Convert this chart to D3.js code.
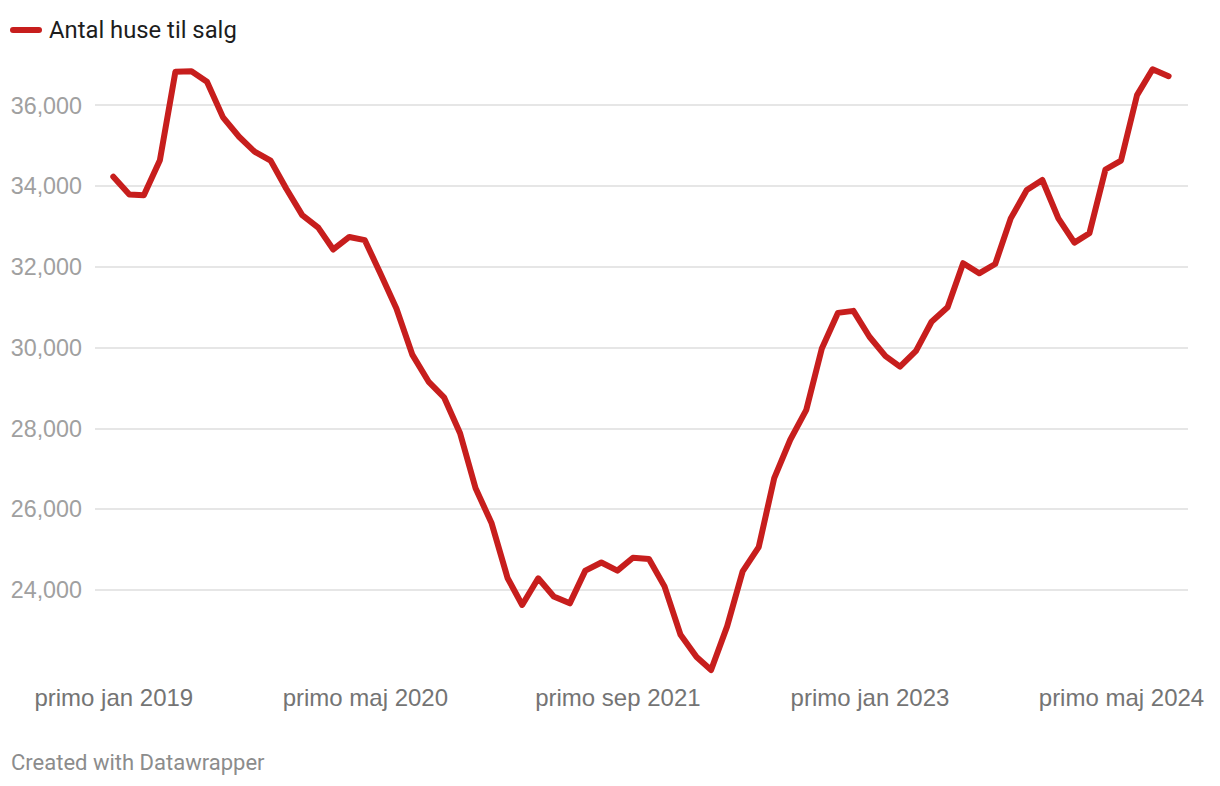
<!DOCTYPE html>
<html lang="da">
<head>
    <meta charset="UTF-8">
    <title>Antal huse til salg</title>
    <script src="https://d3js.org/d3.v7.min.js"></script>
    <style>
        body {
            background-color: #ffffff;
            font-family: Roboto, Arial, sans-serif;
            margin: 0;
            padding: 0;
        }

        .grid line {
            stroke: #e6e6e6;
            stroke-width: 2px;
            shape-rendering: crispEdges;
        }

        .y-axis text {
            fill: #a0a0a0;
            font-size: 23.3px;
        }

        .x-axis text {
            fill: #747474;
            font-size: 24px;
        }

        .domain {
            display: none;
        }
    </style>
</head>
<body>
    <svg id="chart"></svg>

    <script>
        // one value per month, jan 2019 .. aug 2024
        const months = [
            "2019-01", "2019-02", "2019-03", "2019-04", "2019-05", "2019-06", "2019-07", "2019-08", "2019-09", "2019-10", "2019-11", "2019-12",
            "2020-01", "2020-02", "2020-03", "2020-04", "2020-05", "2020-06", "2020-07", "2020-08", "2020-09", "2020-10", "2020-11", "2020-12",
            "2021-01", "2021-02", "2021-03", "2021-04", "2021-05", "2021-06", "2021-07", "2021-08", "2021-09", "2021-10", "2021-11", "2021-12",
            "2022-01", "2022-02", "2022-03", "2022-04", "2022-05", "2022-06", "2022-07", "2022-08", "2022-09", "2022-10", "2022-11", "2022-12",
            "2023-01", "2023-02", "2023-03", "2023-04", "2023-05", "2023-06", "2023-07", "2023-08", "2023-09", "2023-10", "2023-11", "2023-12",
            "2024-01", "2024-02", "2024-03", "2024-04", "2024-05", "2024-06", "2024-07", "2024-08"
        ];

        const housesForSale = [
            34220, 33780, 33760, 34630, 36820, 36830, 36570, 35690, 35210, 34840, 34620, 33930,
            33270, 32960, 32420, 32730, 32650, 31800, 30960, 29810, 29150, 28760, 27870, 26510,
            25640, 24280, 23620, 24280, 23830, 23660, 24470, 24670, 24470, 24790, 24760, 24080,
            22880, 22330, 22010, 23090, 24450, 25050, 26760, 27710, 28450, 29970, 30850, 30900,
            30260, 29780, 29520, 29910, 30630, 30990, 32080, 31830, 32060, 33190, 33890, 34140,
            33190, 32590, 32820, 34400, 34620, 36240, 36880, 36710
        ];

        const seriesName = "Antal huse til salg";

        const yTicks = [24000, 26000, 28000, 30000, 32000, 34000, 36000];
        const xTickMonths = ["2019-01", "2020-05", "2021-09", "2023-01", "2024-05"];
        const xTickLabels = ["primo jan 2019", "primo maj 2020", "primo sep 2021", "primo jan 2023", "primo maj 2024"];

        const width = 1220;
        const height = 786;
        const lineColor = "#c71e1d";

        const parseMonth = d3.timeParse("%Y-%m");
        const data = months.map((m, i) => ({ date: parseMonth(m), value: housesForSale[i] }));

        const svg = d3.select("#chart")
            .attr("width", width)
            .attr("height", height);

        const xScale = d3.scaleTime()
            .domain(d3.extent(data, d => d.date))
            .range([113.3, 1168.6]);

        const yScale = d3.scaleLinear()
            .domain(d3.extent(data, d => d.value))
            .range([670, 69.3]);

        // gridlines + y labels
        const yAxis = svg.append("g")
            .attr("class", "y-axis grid")
            .attr("transform", "translate(95,0)")
            .call(d3.axisRight(yScale)
                .tickValues(yTicks)
                .tickSize(1093)
                .tickFormat(d3.format(",")));

        yAxis.selectAll("text")
            .attr("x", -13)
            .attr("dy", "0.35em")
            .attr("text-anchor", "end");

        // x labels
        const xAxis = svg.append("g")
            .attr("class", "x-axis")
            .attr("transform", "translate(0,686)")
            .call(d3.axisBottom(xScale)
                .tickValues(xTickMonths.map(parseMonth))
                .tickSize(0)
                .tickFormat((d, i) => xTickLabels[i]));

        xAxis.selectAll("text").attr("dy", "0.71em");

        const line = d3.line()
            .x(d => xScale(d.date))
            .y(d => yScale(d.value));

        svg.append("path")
            .datum(data)
            .attr("fill", "none")
            .attr("stroke", lineColor)
            .attr("stroke-width", 6)
            .attr("stroke-linejoin", "round")
            .attr("stroke-linecap", "round")
            .attr("d", line);

        // legend
        svg.append("line")
            .attr("x1", 13)
            .attr("x2", 39)
            .attr("y1", 30)
            .attr("y2", 30)
            .attr("stroke", lineColor)
            .attr("stroke-width", 6)
            .attr("stroke-linecap", "round");

        svg.append("text")
            .attr("x", 49)
            .attr("y", 38)
            .attr("font-size", "23.8px")
            .attr("fill", "#1d1d1d")
            .text(seriesName);

        svg.append("text")
            .attr("x", 11)
            .attr("y", 770)
            .attr("font-size", "22px")
            .attr("fill", "#8c8c8c")
            .text("Created with Datawrapper");
    </script>
</body>
</html>
